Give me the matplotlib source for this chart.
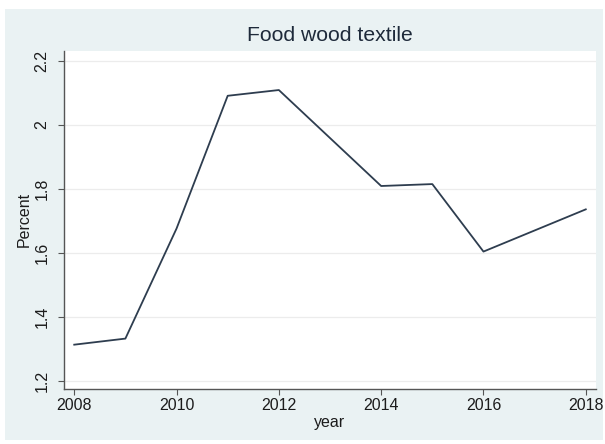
import matplotlib
matplotlib.use("Agg")
import matplotlib.pyplot as plt
from matplotlib.patches import Rectangle

# Share of food, wood and textile industries, by year
years = [2008, 2009, 2010, 2011, 2012, 2014, 2015, 2016, 2018]
percent = [1.312, 1.331, 1.675, 2.090, 2.108, 1.808, 1.814, 1.603, 1.735]

x_ticks = [2008, 2010, 2012, 2014, 2016, 2018]
y_ticks = [1.2, 1.4, 1.6, 1.8, 2.0, 2.2]
y_tick_labels = ["1.2", "1.4", "1.6", "1.8", "2", "2.2"]

plt.rcParams["font.family"] = ["Liberation Sans", "DejaVu Sans"]

bg = "#eaf2f3"
text_col = "#1c1c1c"
line_col = "#2e3d4f"

fig = plt.figure(figsize=(6.05, 4.44), dpi=100, facecolor="white")
backdrop = Rectangle((5 / 605, 4 / 444), 598 / 605, 431 / 444,
                     transform=fig.transFigure, facecolor=bg,
                     edgecolor="none", zorder=-10)
fig.add_artist(backdrop)

ax = fig.add_axes([64 / 605, 55.5 / 444, 532 / 605, 337.5 / 444])
ax.set_zorder(5)
ax.set_facecolor("white")

ax.plot(years, percent, color=line_col, linewidth=1.3, zorder=3)

ax.set_xlim(2007.80, 2018.20)
ax.set_ylim(1.175, 2.230)
ax.set_xticks(x_ticks)
ax.set_yticks(y_ticks)
ax.set_yticklabels(y_tick_labels, rotation=90, va="center")

ax.grid(axis="y", color="#ececec", linewidth=0.9)
ax.set_axisbelow(True)

for side in ("top", "right"):
    ax.spines[side].set_visible(False)
for side in ("left", "bottom"):
    ax.spines[side].set_color("#555555")
    ax.spines[side].set_linewidth(1.0)

ax.tick_params(axis="both", direction="out", length=4.5, width=0.8,
               color="#555555", labelsize=11.5, labelcolor=text_col)
ax.tick_params(axis="y", pad=6)
ax.tick_params(axis="x", pad=2.5)

ax.set_xlabel("year", fontsize=11.5, color=text_col, labelpad=1)
ax.set_ylabel("Percent", fontsize=11.5, color=text_col, labelpad=2)
ax.set_title("Food wood textile", fontsize=15.2, color="#1e2a3a", pad=7)

fig.savefig("out.png", dpi=100, facecolor=fig.get_facecolor())
